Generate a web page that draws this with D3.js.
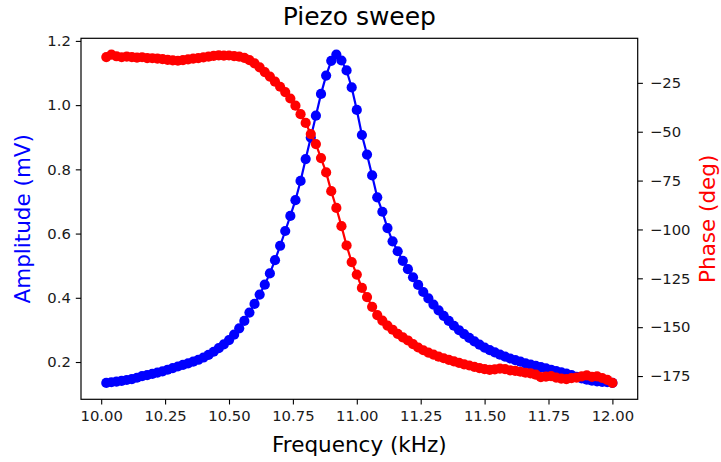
<!DOCTYPE html>
<html>
<head>
<meta charset="utf-8">
<script src="https://cdn.jsdelivr.net/npm/d3@7"></script>
<style>
  html, body { margin: 0; padding: 0; background: #fff; }
  svg { display: block; font-family: "DejaVu Sans", sans-serif; }
</style>
</head>
<body>
<svg id="chart" width="721" height="462"></svg>
<script>
// ---------- data ----------
const frequency = [
  10.02,10.04,10.06,10.08,10.10,10.12,10.14,10.16,10.18,10.20,
  10.22,10.24,10.26,10.28,10.30,10.32,10.34,10.36,10.38,10.40,
  10.42,10.44,10.46,10.48,10.50,10.52,10.54,10.56,10.58,10.60,
  10.62,10.64,10.66,10.68,10.70,10.72,10.74,10.76,10.78,10.80,
  10.82,10.84,10.86,10.88,10.90,10.92,10.94,10.96,10.98,11.00,
  11.02,11.04,11.06,11.08,11.10,11.12,11.14,11.16,11.18,11.20,
  11.22,11.24,11.26,11.28,11.30,11.32,11.34,11.36,11.38,11.40,
  11.42,11.44,11.46,11.48,11.50,11.52,11.54,11.56,11.58,11.60,
  11.62,11.64,11.66,11.68,11.70,11.72,11.74,11.76,11.78,11.80,
  11.82,11.84,11.86,11.88,11.90,11.92,11.94,11.96,11.98,12.00
];
const amplitude = [
  0.135,0.137,0.139,0.141,0.144,0.147,0.151,0.156,0.159,0.163,
  0.167,0.171,0.176,0.181,0.186,0.191,0.196,0.201,0.207,0.214,
  0.222,0.232,0.243,0.255,0.268,0.285,0.305,0.328,0.354,0.381,
  0.410,0.441,0.476,0.517,0.562,0.608,0.655,0.704,0.764,0.832,
  0.899,0.967,1.035,1.092,1.138,1.157,1.139,1.108,1.055,0.985,
  0.907,0.846,0.781,0.713,0.668,0.617,0.576,0.545,0.515,0.489,
  0.464,0.440,0.418,0.398,0.379,0.361,0.344,0.328,0.313,0.299,
  0.287,0.275,0.264,0.254,0.245,0.237,0.230,0.223,0.217,0.211,
  0.206,0.201,0.196,0.192,0.188,0.184,0.180,0.176,0.172,0.168,
  0.164,0.159,0.154,0.149,0.145,0.142,0.140,0.138,0.137,0.135
];
const phase = [
  -11.8,-10.6,-11.4,-11.9,-11.6,-11.8,-12.1,-11.9,-12.3,-12.4,
  -12.6,-12.9,-13.2,-13.5,-13.7,-13.4,-13.0,-12.6,-12.3,-12.0,
  -11.6,-11.2,-10.9,-11.1,-11.0,-11.3,-11.6,-12.2,-13.4,-15.0,
  -17.1,-19.5,-21.8,-24.4,-27.0,-29.7,-33.0,-36.7,-41.0,-45.5,
  -51.2,-56.3,-63.5,-70.8,-80.4,-89.0,-98.3,-108.2,-116.7,-123.1,
  -129.9,-134.6,-139.6,-143.8,-146.6,-149.2,-151.3,-153.4,-155.2,-156.8,
  -158.7,-160.4,-161.8,-163.0,-164.0,-165.1,-165.9,-166.7,-167.5,-168.3,
  -169.0,-169.6,-170.3,-170.9,-171.5,-171.8,-171.6,-171.2,-171.5,-172.1,
  -172.4,-172.8,-173.3,-173.6,-174.3,-175.6,-175.3,-175.0,-175.8,-176.3,
  -176.6,-176.1,-175.8,-175.2,-174.7,-175.4,-175.2,-176.0,-177.0,-178.5
];
const xTicks = [10.00, 10.25, 10.50, 10.75, 11.00, 11.25, 11.50, 11.75, 12.00];
const ampTicks = [0.2, 0.4, 0.6, 0.8, 1.0, 1.2];
const phaseTicks = [-175, -150, -125, -100, -75, -50, -25];
const titleText = "Piezo sweep";
const xLabel = "Frequency (kHz)";
const yLabelLeft = "Amplitude (mV)";
const yLabelRight = "Phase (deg)";

// ---------- layout ----------
const plot = { left: 81, right: 637.7, top: 38.3, bottom: 399.3 };
const svg = d3.select("#chart");

// matplotlib-style 5% margins around the data
function padded(ext) { const r = ext[1] - ext[0]; return [ext[0] - 0.05 * r, ext[1] + 0.05 * r]; }

const x = d3.scaleLinear().domain(padded(d3.extent(frequency))).range([plot.left, plot.right]);
const yA = d3.scaleLinear().domain(padded(d3.extent(amplitude))).range([plot.bottom, plot.top]);
const yP = d3.scaleLinear().domain(padded(d3.extent(phase))).range([plot.bottom, plot.top]);

const ampData = frequency.map((f, i) => ({ f, v: amplitude[i] }));
const phData = frequency.map((f, i) => ({ f, v: phase[i] }));

// ---------- series ----------
function drawSeries(data, y, color) {
  const g = svg.append("g");
  g.append("path")
    .datum(data)
    .attr("fill", "none")
    .attr("stroke", color)
    .attr("stroke-width", 2.2)
    .attr("stroke-linejoin", "round")
    .attr("d", d3.line().x(d => x(d.f)).y(d => y(d.v)));
  g.selectAll("circle")
    .data(data)
    .join("circle")
    .attr("cx", d => x(d.f))
    .attr("cy", d => y(d.v))
    .attr("r", 5.1)
    .attr("fill", color);
}
drawSeries(ampData, yA, "#0000ff");
drawSeries(phData, yP, "#ff0000");

// ---------- axes ----------
const tickFont = 14.8;
function styleAxis(g) {
  g.select(".domain").remove();
  g.selectAll(".tick line").attr("stroke", "#000").attr("stroke-width", 1.1);
  g.selectAll(".tick text")
    .attr("fill", "#1a1a1a")
    .style("font-size", tickFont + "px")
    .style("font-family", "'DejaVu Sans', sans-serif");
}

svg.append("g")
  .attr("transform", `translate(0,${plot.bottom})`)
  .call(d3.axisBottom(x).tickValues(xTicks).tickFormat(d3.format(".2f")).tickSize(5.2).tickPadding(6))
  .call(styleAxis);

svg.append("g")
  .attr("transform", `translate(${plot.left},0)`)
  .call(d3.axisLeft(yA).tickValues(ampTicks).tickFormat(d3.format(".1f")).tickSize(5.2).tickPadding(5))
  .call(styleAxis);

svg.append("g")
  .attr("transform", `translate(${plot.right},0)`)
  .call(d3.axisRight(yP).tickValues(phaseTicks).tickFormat(d3.format("d")).tickSize(5.2).tickPadding(7))
  .call(styleAxis);

// spines
svg.append("rect")
  .attr("x", plot.left).attr("y", plot.top)
  .attr("width", plot.right - plot.left).attr("height", plot.bottom - plot.top)
  .attr("fill", "none").attr("stroke", "#000").attr("stroke-width", 1.2);

// ---------- texts ----------
const cx = (plot.left + plot.right) / 2;
const cy = (plot.top + plot.bottom) / 2;

svg.append("text")
  .attr("x", cx).attr("y", 25)
  .attr("text-anchor", "middle")
  .style("font-size", "25px")
  .attr("fill", "#000")
  .text(titleText);

svg.append("text")
  .attr("x", cx).attr("y", 451.5)
  .attr("text-anchor", "middle")
  .style("font-size", "21.5px")
  .attr("fill", "#000")
  .text(xLabel);

svg.append("text")
  .attr("transform", `translate(30,${cy}) rotate(-90)`)
  .attr("text-anchor", "middle")
  .style("font-size", "21.5px")
  .attr("fill", "#0000ff")
  .text(yLabelLeft);

svg.append("text")
  .attr("transform", `translate(715,${cy}) rotate(-90)`)
  .attr("text-anchor", "middle")
  .style("font-size", "21.5px")
  .attr("fill", "#ff0000")
  .text(yLabelRight);
</script>
</body>
</html>
